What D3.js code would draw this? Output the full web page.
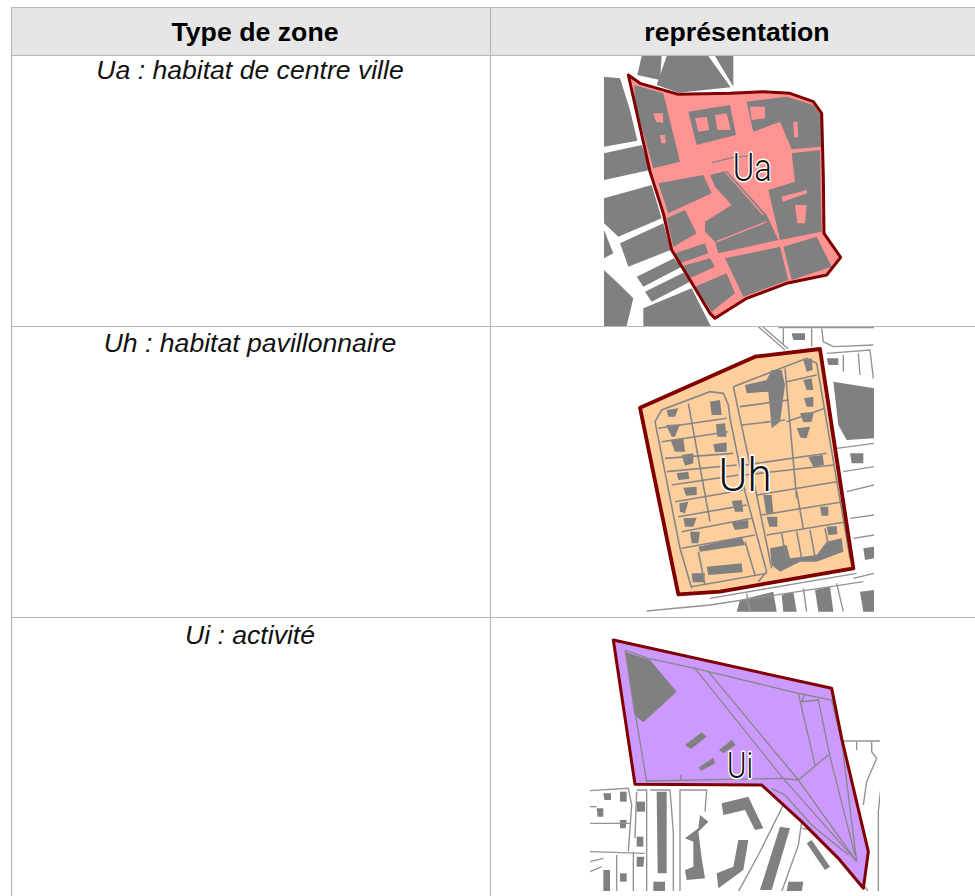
<!DOCTYPE html>
<html lang="fr">
<head>
<meta charset="UTF-8">
<title>Types de zone</title>
<style>
    html, body { margin: 0; padding: 0; background: #fff; overflow: hidden; }
    svg { display: block; font-family: "Liberation Sans", Arial, sans-serif; }
    .hdr { font-weight: bold; font-size: 26.7px; text-anchor: middle; fill: #000; }
    .cell { font-style: italic; font-size: 26.6px; text-anchor: middle; fill: #111; }
    .tag { font-family: Roboto, sans-serif; font-weight: 300; text-anchor: middle; fill: #111; stroke: #fff; stroke-width: 3px; paint-order: stroke; stroke-linejoin: round; }
</style>
</head>
<body>
<svg id="chart" width="975" height="896"></svg>
<script src="https://d3js.org/d3.v7.min.js"></script>
<script>
// table content
const headers = ["Type de zone", "représentation"];
const rowLabels = ["Ua : habitat de centre ville", "Uh : habitat pavillonnaire", "Ui : activité"];
const zoneTags = ["Ua", "Uh", "Ui"];
const zoneFills = ["#fe9393", "#fecf9c", "#cc99fe"];

// ---- Ua
const uaOutline = [[85,75],[120,100],[235,133],[390,130],[490,125],[570,130],[640,155],[665,190],[670,380],[672,550],[722,622],[680,675],[560,700],[440,745],[345,805],[330,790],[270,690],[215,600],[190,490],[150,365]];
const uaOutside = [
    [[12,80],[60,85],[90,180],[112,272],[12,290]],
    [[12,310],[125,285],[150,360],[12,390]],
    [[12,445],[155,405],[185,505],[55,560],[12,520]],
    [[12,540],[40,610],[12,625]],
    [[60,580],[190,520],[212,600],[85,650]],
    [[110,680],[222,625],[245,650],[130,710]],
    [[135,725],[250,668],[270,695],[155,755]],
    [[12,660],[60,705],[100,745],[80,828],[12,828]],
    [[130,828],[130,775],[275,715],[332,828]],
    [[125,18],[185,18],[180,90],[112,75]],
    [[200,18],[325,18],[392,112],[235,128],[170,105]],
    [[345,18],[400,18],[400,110]]
];
const uaBlocks = [
    [[103,105],[190,130],[240,335],[160,355],[105,160]],
    [[265,185],[390,165],[408,255],[290,285]],
    [[440,155],[560,140],[640,165],[665,200],[665,290],[575,298],[540,215],[460,245]],
    [[575,310],[660,300],[665,545],[540,570],[505,420],[585,395]],
    [[175,400],[310,375],[335,430],[205,490]],
    [[200,505],[255,480],[290,550],[220,590]],
    [[330,375],[380,362],[500,495],[535,570],[355,610],[345,575],[315,545],[315,515],[395,465],[345,410]],
    [[225,610],[315,580],[325,610],[240,640]],
    [[240,650],[330,625],[345,650],[270,685]],
    [[285,710],[380,670],[405,730],[335,785]],
    [[375,625],[540,590],[565,690],[430,740]],
    [[550,590],[650,560],[695,650],[575,690]]
];
const uaHoles = [
    [[285,205],[320,200],[328,240],[295,245]],
    [[345,195],[380,190],[392,240],[352,240]],
    [[450,170],[495,170],[495,205],[455,210]],
    [[580,215],[592,215],[595,262],[582,262]],
    [[585,465],[620,465],[615,520],[592,520]],
    [[545,440],[620,420],[622,430],[548,455]],
    [[160,190],[188,190],[190,218],[168,215]],
    [[180,255],[195,255],[197,280],[184,280]]
];
const uaLines = [
    [[335,338],[400,322],[450,318]]
];
const uaPinkLines = [
    [[375,365],[490,495]],
    [[350,575],[500,515]]
];

// ---- Uh
const uhOutline = [[30,248],[375,95],[570,72],[670,730],[270,800],[145,808]];
const uhOutside = [
    [[610,170],[732,190],[732,340],[650,345],[625,300]],
    [[485,25],[525,25],[525,45],[490,45]],
    [[590,100],[625,100],[625,120],[595,120]],
    [[660,385],[700,385],[700,415],[665,415]],
    [[700,670],[732,665],[732,700],[705,705]],
    [[330,825],[430,800],[440,860],[320,860]],
    [[455,810],[490,800],[500,860],[460,860]],
    [[555,795],[600,785],[610,860],[565,860]],
    [[690,800],[732,795],[732,860],[700,860]]
];
const uhOutsideLines = [
    [[385,5],[465,75]], [[398,5],[475,72]],
    [[445,8],[732,8]], [[460,60],[460,10]], [[545,10],[545,65]],
    [[575,10],[580,50],[610,65],[730,60]],
    [[590,85],[720,75],[730,160]], [[640,90],[640,140]], [[685,85],[690,150]],
    [[620,370],[732,355]], [[640,440],[732,425]], [[650,500],[732,480]],
    [[660,580],[732,570]], [[670,640],[732,630]],
    [[670,760],[732,745]],
    [[240,820],[680,745]], [[50,858],[240,840],[700,770]],
    [[350,805],[360,860]], [[520,790],[530,860]], [[620,775],[640,860]]
];
const uhBlocks = [
    [[345,180],[410,165],[425,135],[455,135],[465,180],[450,290],[425,310],[415,200],[350,205]],
    [[240,230],[270,225],[275,270],[245,270]],
    [[110,255],[145,250],[135,275],[115,275]],
    [[108,300],[150,298],[135,335],[125,335]],
    [[258,298],[285,295],[290,335],[262,335]],
    [[122,345],[160,340],[165,380],[135,380]],
    [[250,358],[290,352],[290,380],[255,382]],
    [[155,390],[190,385],[190,415],[165,422]],
    [[140,445],[175,440],[178,462],[145,465]],
    [[160,488],[200,485],[200,510],[168,512]],
    [[148,535],[175,530],[165,565],[150,560]],
    [[305,528],[335,525],[340,560],[315,560]],
    [[160,580],[200,578],[190,605],[165,605]],
    [[305,592],[355,585],[355,610],[315,615]],
    [[180,620],[210,620],[205,655],[185,655]],
    [[205,665],[335,635],[345,660],[210,680]],
    [[230,725],[335,715],[338,742],[235,750]],
    [[185,745],[225,745],[222,772],[188,772]],
    [[400,510],[425,510],[430,565],[408,565]],
    [[410,575],[442,575],[442,605],[418,605]],
    [[420,670],[470,660],[480,700],[560,690],[590,650],[635,640],[640,680],[560,710],[510,710],[450,740],[425,720]],
    [[535,395],[578,390],[582,420],[550,425]],
    [[570,545],[595,545],[595,572],[575,572]],
    [[590,605],[620,603],[622,628],[595,630]],
    [[520,105],[545,100],[548,135],[530,140]],
    [[520,165],[545,160],[550,195],[530,195]],
    [[522,220],[550,215],[550,245],[530,245]],
    [[510,265],[552,260],[545,290],[520,292]],
    [[500,310],[540,305],[530,340],[512,338]]
];
const uhLines = [
    [[75,290],[95,255],[240,200],[280,205],[295,240],[300,280],[345,500],[410,740],[385,770]],
    [[75,290],[150,670],[185,790]],
    [[310,185],[530,100],[560,115],[660,700]],
    [[310,185],[345,350],[380,510],[425,730]],
    [[175,235],[240,590]],
    [[85,310],[290,280]], [[95,350],[295,320]], [[105,400],[310,385]], [[110,440],[320,420]],
    [[125,480],[325,450]], [[135,530],[340,495]], [[145,575],[350,540]], [[155,620],[365,580]],
    [[155,670],[375,630]], [[205,680],[225,780]], [[345,650],[375,750]], [[185,785],[410,745]],
    [[330,245],[475,225]], [[335,300],[465,285]], [[470,290],[585,250]], [[470,170],[560,150]],
    [[345,420],[590,385]], [[345,450],[610,420]], [[380,510],[620,470]], [[395,570],[640,530]],
    [[410,630],[650,590]], [[465,130],[500,520]], [[500,500],[520,610]],
    [[455,625],[470,710]], [[500,620],[515,700]], [[540,615],[555,695]], [[585,610],[595,660]]
];

// ---- Ui
const uiOutline = [[85,45],[740,190],[770,340],[850,680],[835,790],[760,700],[650,590],[530,480],[150,478]];
const uiBlocks = [
    [[120,80],[195,105],[275,200],[175,292],[148,270]],
    [[300,360],[350,322],[365,335],[318,372]],
    [[340,428],[385,398],[390,415],[350,437]],
    [[402,375],[440,345],[452,360],[415,385]]
];
const uiLines = [
    [[120,75],[190,100],[330,130],[640,205],[740,225],[770,350],[815,710]],
    [[120,75],[150,260],[185,470]],
    [[185,468],[590,460],[640,465],[730,390]],
    [[330,130],[590,455],[815,710]],
    [[370,140],[640,465],[815,710]],
    [[640,205],[690,420]],
    [[660,205],[650,230],[700,225],[735,395],[810,690]],
    [[288,450],[288,468]],
    [[560,490],[600,510],[680,600],[790,690]]
];
const uiOutsideBlocks = [
    [[215,500],[245,500],[245,745],[218,745]],
    [[410,535],[490,515],[535,610],[510,615],[480,555],[415,570]],
    [[345,570],[370,590],[340,620],[350,700],[360,760],[305,765],[300,735],[325,725],[325,650],[300,640],[340,610]],
    [[460,645],[490,645],[475,735],[400,790],[395,745],[445,725]],
    [[585,605],[615,610],[560,795],[525,795]],
    [[665,655],[680,645],[735,725],[720,735]],
    [[610,770],[655,770],[650,800],[605,800]],
    [[205,770],[240,770],[240,800],[205,800]],
    [[55,505],[78,505],[78,525],[58,525]],
    [[105,500],[125,500],[125,530],[105,530]],
    [[35,550],[55,550],[55,575],[38,575]],
    [[105,585],[125,585],[122,610],[105,610]],
    [[155,530],[180,530],[180,560],[155,560]],
    [[155,635],[175,635],[175,665],[155,665]],
    [[155,695],[178,695],[175,725],[155,725]],
    [[55,735],[75,735],[75,800],[55,800]],
    [[105,745],[125,745],[125,770],[105,770]]
];
const uiOutsideLines = [
    [[15,497],[130,490],[140,540],[130,680]],
    [[15,545],[35,545]], [[15,595],[135,595]], [[15,680],[180,685]],
    [[15,710],[55,700]], [[15,740],[50,725]], [[95,690],[95,800]],
    [[155,495],[185,495],[185,800]], [[145,680],[145,800]], [[155,500],[150,640]],
    [[195,495],[255,495],[265,620],[265,800]],
    [[285,800],[285,495],[365,495],[360,560]],
    [[600,530],[520,690],[460,800]],
    [[620,560],[650,590],[640,660],[590,800]],
    [[650,610],[720,620],[810,745],[850,800]],
    [[775,348],[895,348]], [[815,350],[815,375]], [[860,350],[860,380],[875,400],[845,470],[835,540]],
    [[895,420],[880,560],[880,800]], [[885,620],[895,625]]
];

// one crop per map: where its 3x pixels land on the page
const frames = [
    { ox: 600, oy: 50, w: 250, h: 276, clip: [4, 5, 246, 276] },
    { ox: 630, oy: 325, w: 244, h: 287, clip: [0, 1, 244, 287] },
    { ox: 585, oy: 625, w: 300, h: 266, clip: [5, 0, 295, 266] }
];

const svg = d3.select("#chart");

// table: fills and grid
const gridColor = "#b8b8b8";
const tableX = [11, 490, 976];
const tableY = [7, 55, 326, 617, 897];
const headerX = [255, 737];
const rowBase = [79, 352, 644];

svg.append("rect").attr("x", tableX[0]).attr("y", tableY[0])
    .attr("width", tableX[2] - tableX[0]).attr("height", tableY[1] - tableY[0])
    .attr("fill", "#e6e6e6");

svg.selectAll(".hdr").data(headers).join("text")
    .attr("class", "hdr")
    .attr("x", (d, i) => headerX[i])
    .attr("y", 41)
    .text(d => d);

svg.selectAll(".cell").data(rowLabels).join("text")
    .attr("class", "cell")
    .attr("x", 250)
    .attr("y", (d, i) => rowBase[i])
    .text(d => d);

const defs = svg.append("defs");
defs.append("filter").attr("id", "soft")
    .append("feGaussianBlur").attr("stdDeviation", 0.45);

const poly = d3.line().curve(d3.curveLinearClosed);
const path = d3.line();

function drawMap(i, parts) {
    const f = frames[i];
    const x = d3.scaleLinear().domain([0, f.w * 3]).range([f.ox, f.ox + f.w]);
    const y = d3.scaleLinear().domain([0, f.h * 3]).range([f.oy, f.oy + f.h]);
    const pt = d => d.map(p => [x(p[0]), y(p[1])]);

    defs.append("clipPath").attr("id", "clip" + i).append("rect")
        .attr("x", f.ox + f.clip[0]).attr("y", f.oy + f.clip[1])
        .attr("width", f.clip[2] - f.clip[0]).attr("height", f.clip[3] - f.clip[1]);
    defs.append("clipPath").attr("id", "zone" + i).append("path")
        .attr("d", poly(pt(parts.outline)));

    const g = svg.append("g").attr("clip-path", `url(#clip${i})`).append("g").attr("filter", "url(#soft)");

    g.selectAll(".bg").data(parts.outBlocks || []).join("path").attr("class", "bg")
        .attr("d", d => poly(pt(d))).attr("fill", "#808080");
    g.selectAll(".bgl").data(parts.outLines || []).join("path").attr("class", "bgl")
        .attr("d", d => path(pt(d))).attr("fill", "none").attr("stroke", "#949494").attr("stroke-width", 1.4);

    g.append("path").attr("d", poly(pt(parts.outline))).attr("fill", zoneFills[i]);

    const inner = g.append("g").attr("clip-path", `url(#zone${i})`);
    inner.selectAll(".blk").data(parts.blocks).join("path").attr("class", "blk")
        .attr("d", d => poly(pt(d))).attr("fill", "#808080");
    inner.selectAll(".hole").data(parts.holes || []).join("path").attr("class", "hole")
        .attr("d", d => poly(pt(d))).attr("fill", zoneFills[i]);
    inner.selectAll(".ln").data(parts.lines).join("path").attr("class", "ln")
        .attr("d", d => path(pt(d))).attr("fill", "none").attr("stroke", "#868686").attr("stroke-width", parts.lineW);
    inner.selectAll(".pk").data(parts.pink || []).join("path").attr("class", "pk")
        .attr("d", d => path(pt(d))).attr("fill", "none").attr("stroke", zoneFills[i]).attr("stroke-width", 1.3);

    g.append("path").attr("d", poly(pt(parts.outline)))
        .attr("fill", "none").attr("stroke", "#800000").attr("stroke-width", parts.edge)
        .attr("stroke-linejoin", "round");

    svg.append("text").attr("class", "tag")
        .attr("x", x(parts.tag[0])).attr("y", y(parts.tag[1]))
        .attr("font-size", parts.tag[2])
        .attr("textLength", parts.tag[3]).attr("lengthAdjust", "spacingAndGlyphs")
        .text(zoneTags[i]);
}

drawMap(0, { outline: uaOutline, outBlocks: uaOutside, blocks: uaBlocks, holes: uaHoles, lines: uaLines, pink: uaPinkLines, lineW: 1.2, edge: 3, tag: [457, 392, 39, 39] });
drawMap(1, { outline: uhOutline, outBlocks: uhOutside, outLines: uhOutsideLines, blocks: uhBlocks, lines: uhLines, lineW: 1.6, edge: 3.8, tag: [345, 497, 46, 53] });
drawMap(2, { outline: uiOutline, outBlocks: uiOutsideBlocks, outLines: uiOutsideLines, blocks: uiBlocks, lines: uiLines, lineW: 1.3, edge: 3, tag: [465, 460, 37, 26] });

// grid on top of the maps
tableY.slice(0, 4).forEach(v => {
    svg.append("line").attr("x1", tableX[0]).attr("x2", tableX[2]).attr("y1", v + 0.5).attr("y2", v + 0.5)
        .attr("stroke", gridColor).attr("stroke-width", 1.2);
});
tableX.slice(0, 2).forEach(v => {
    svg.append("line").attr("x1", v + 0.5).attr("x2", v + 0.5).attr("y1", tableY[0]).attr("y2", tableY[4])
        .attr("stroke", gridColor).attr("stroke-width", 1.2);
});
</script>
</body>
</html>
